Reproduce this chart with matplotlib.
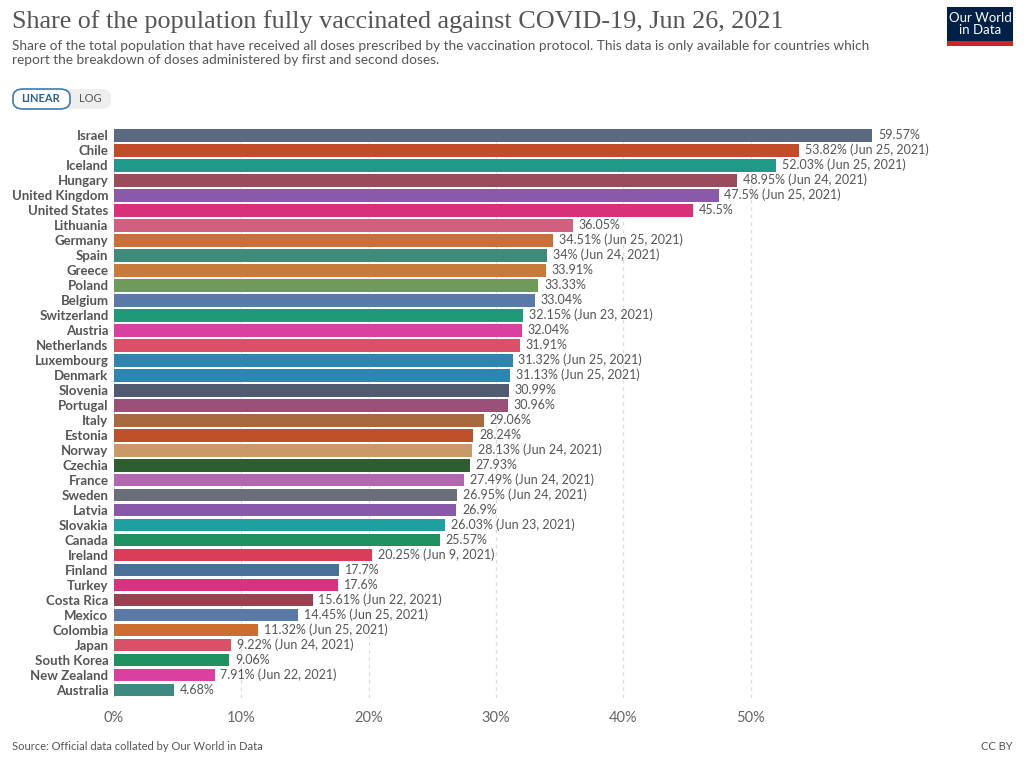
import matplotlib.pyplot as plt
from matplotlib.patches import FancyBboxPatch, Rectangle

plt.rcParams['font.family'] = ['Lato', 'DejaVu Sans']

countries = ['Israel', 'Chile', 'Iceland', 'Hungary', 'United Kingdom', 'United States',
             'Lithuania', 'Germany', 'Spain', 'Greece', 'Poland', 'Belgium', 'Switzerland',
             'Austria', 'Netherlands', 'Luxembourg', 'Denmark', 'Slovenia', 'Portugal',
             'Italy', 'Estonia', 'Norway', 'Czechia', 'France', 'Sweden', 'Latvia',
             'Slovakia', 'Canada', 'Ireland', 'Finland', 'Turkey', 'Costa Rica', 'Mexico',
             'Colombia', 'Japan', 'South Korea', 'New Zealand', 'Australia']
values = [59.57, 53.82, 52.03, 48.95, 47.5, 45.5, 36.05, 34.51, 34, 33.91, 33.33, 33.04,
          32.15, 32.04, 31.91, 31.32, 31.13, 30.99, 30.96, 29.06, 28.24, 28.13, 27.93,
          27.49, 26.95, 26.9, 26.03, 25.57, 20.25, 17.7, 17.6, 15.61, 14.45, 11.32, 9.22,
          9.06, 7.91, 4.68]
value_text = ['59.57%', '53.82% (Jun 25, 2021)', '52.03% (Jun 25, 2021)',
              '48.95% (Jun 24, 2021)', '47.5% (Jun 25, 2021)', '45.5%', '36.05%',
              '34.51% (Jun 25, 2021)', '34% (Jun 24, 2021)', '33.91%', '33.33%', '33.04%',
              '32.15% (Jun 23, 2021)', '32.04%', '31.91%', '31.32% (Jun 25, 2021)',
              '31.13% (Jun 25, 2021)', '30.99%', '30.96%', '29.06%', '28.24%',
              '28.13% (Jun 24, 2021)', '27.93%', '27.49% (Jun 24, 2021)',
              '26.95% (Jun 24, 2021)', '26.9%', '26.03% (Jun 23, 2021)', '25.57%',
              '20.25% (Jun 9, 2021)', '17.7%', '17.6%', '15.61% (Jun 22, 2021)',
              '14.45% (Jun 25, 2021)', '11.32% (Jun 25, 2021)', '9.22% (Jun 24, 2021)',
              '9.06%', '7.91% (Jun 22, 2021)', '4.68%']
colors = ['#5b6a80', '#c04c2a', '#1f9a8a', '#9a4a5a', '#8a5aa8', '#d9307a', '#d06080',
          '#cc6e3a', '#3f8a78', '#c87a3a', '#6e9a5a', '#5a78a8', '#1f9a78', '#d940a0',
          '#d95068', '#2e86b0', '#2e86b0', '#505a70', '#9a5078', '#a86840', '#c0502a',
          '#c89a68', '#2e5e30', '#b268b0', '#6a6e78', '#8a58a8', '#1fa0a0', '#1f9060',
          '#d93e58', '#4a709a', '#d93080', '#9a4050', '#5a78a8', '#cc6e30', '#d95068',
          '#1f9060', '#d940a0', '#3f8a80']
xticks = [0, 10, 20, 30, 40, 50]

fig = plt.figure(figsize=(10.24, 7.63), dpi=100)
ax = fig.add_axes([114 / 1024, 0.0858, (60 * 12.73) / 1024, 0.747])

y = list(range(len(countries)))
ax.barh(y, values, color=colors, height=0.86, zorder=2)
for yi, v, t in zip(y, values, value_text):
    ax.text(v + 0.45, yi, t, va='center', ha='left', fontsize=9, color='#555555',
            clip_on=False)

ax.set_xlim(0, 60)
ax.set_ylim(len(countries) - 0.5, -0.5)
ax.set_yticks(y)
ax.set_yticklabels(countries, fontsize=9.5, fontweight='bold', color='#555555')
ax.set_xticks(xticks)
ax.set_xticklabels([f'{t}%' for t in xticks], fontsize=10.5, color='#666666')
ax.tick_params(axis='both', length=0)
ax.tick_params(axis='y', pad=4)
ax.tick_params(axis='x', pad=10)
ax.grid(axis='x', linestyle=(0, (3, 3)), color='#dddddd', linewidth=0.9, zorder=0)
for s in ax.spines.values():
    s.set_visible(False)

# title and subtitle
fig.text(12 / 1024, 1 - 22 / 763, 'Share of the population fully vaccinated against COVID-19, Jun 26, 2021',
         fontsize=18.8, family=['Liberation Serif', 'DejaVu Serif'], color='#555555', va='center')
fig.text(12 / 1024, 1 - 53 / 763,
         'Share of the total population that have received all doses prescribed by the vaccination protocol. This data is only available for countries which\n'
         'report the breakdown of doses administered by first and second doses.',
         fontsize=9.8, color='#555555', va='center', linespacing=1.2)

# LINEAR / LOG toggle
fig.patches.append(FancyBboxPatch((13 / 1024, 1 - 109 / 763), 98 / 1024, 20 / 763,
                                  boxstyle='round,pad=0,rounding_size=0.01',
                                  transform=fig.transFigure, facecolor='#eeeeee',
                                  edgecolor='none'))
fig.patches.append(FancyBboxPatch((13 / 1024, 1 - 109 / 763), 57 / 1024, 20 / 763,
                                  boxstyle='round,pad=0,rounding_size=0.01',
                                  transform=fig.transFigure, facecolor='white',
                                  edgecolor='#3d7bb0', linewidth=1.2))
fig.text(41 / 1024, 1 - 99 / 763, 'LINEAR', fontsize=8, color='#2d5f8c', ha='center',
         va='center', fontweight='bold')
fig.text(90 / 1024, 1 - 99 / 763, 'LOG', fontsize=8, color='#555555', ha='center',
         va='center')

# logo
fig.patches.append(Rectangle((947 / 1024, 1 - 41 / 763), 66 / 1024, 34 / 763,
                             transform=fig.transFigure, facecolor='#002147', edgecolor='none'))
fig.patches.append(Rectangle((947 / 1024, 1 - 46 / 763), 66 / 1024, 5 / 763,
                             transform=fig.transFigure, facecolor='#ce261e', edgecolor='none'))
fig.text(980 / 1024, 1 - 24 / 763, 'Our World\nin Data', fontsize=9.5, color='white',
         ha='center', va='center', linespacing=1.0)

# footer
fig.text(12 / 1024, 1 - 746 / 763, 'Source: Official data collated by Our World in Data',
         fontsize=8, color='#555555', va='center')
fig.text(1013 / 1024, 1 - 746 / 763, 'CC BY', fontsize=8, color='#555555', va='center',
         ha='right')

fig.savefig('out.png', dpi=100)
